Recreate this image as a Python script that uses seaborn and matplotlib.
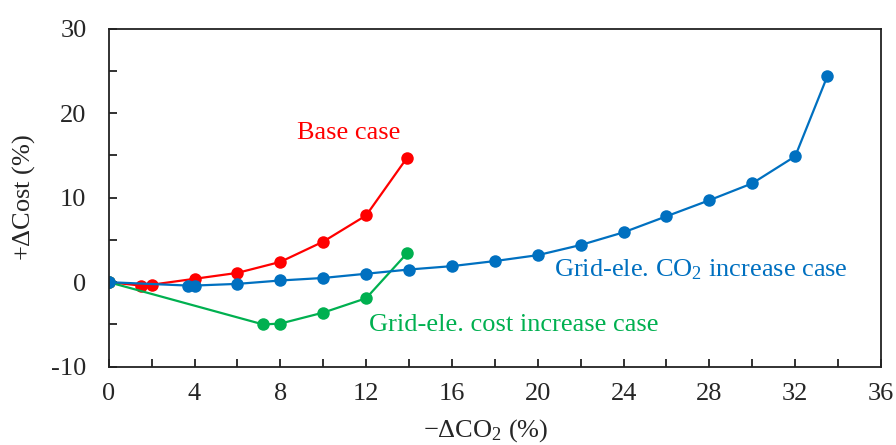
import matplotlib
matplotlib.use("Agg")
import matplotlib.pyplot as plt
import seaborn as sns
import pandas as pd

# ---- data ----
base_x = [0, 1.5, 2.0, 4.0, 6.0, 8.0, 10.0, 12.0, 13.9]
base_y = [0, -0.4, -0.3, 0.4, 1.1, 2.4, 4.8, 7.9, 14.7]

cost_x = [0, 7.2, 8.0, 10.0, 12.0, 13.9]
cost_y = [0, -5.0, -4.9, -3.6, -1.9, 3.4]

co2_x = [0, 3.7, 4.0, 6.0, 8.0, 10.0, 12.0, 14.0, 16.0, 18.0, 20.0,
         22.0, 24.0, 26.0, 28.0, 30.0, 32.0, 33.5]
co2_y = [0, -0.4, -0.4, -0.2, 0.2, 0.5, 1.0, 1.5, 1.9, 2.5, 3.2,
         4.4, 5.9, 7.8, 9.7, 11.7, 14.9, 24.4]

x_ticks = [0, 4, 8, 12, 16, 20, 24, 28, 32, 36]
y_ticks = [-10, 0, 10, 20, 30]

RED = "#FF0000"
GREEN = "#00B050"
BLUE = "#0070C0"

sns.set_theme(style="ticks")
plt.rcParams["font.family"] = ["Liberation Serif", "DejaVu Serif"]
plt.rcParams["mathtext.fontset"] = "custom"
plt.rcParams["mathtext.rm"] = "Liberation Serif"
plt.rcParams["mathtext.it"] = "Liberation Serif:italic"

fig = plt.figure(figsize=(8.96, 4.45), dpi=100)
ax = fig.add_axes([0.1213, 0.176, 0.862, 0.7595])

series = [(base_x, base_y, RED), (cost_x, cost_y, GREEN), (co2_x, co2_y, BLUE)]
for xs, ys, c in series:
    df = pd.DataFrame({"x": xs, "y": ys})
    sns.lineplot(data=df, x="x", y="y", sort=False, estimator=None, ax=ax,
                 color=c, linewidth=1.6, marker="o", markersize=9,
                 markeredgewidth=0, markeredgecolor=c)

ax.set_xlim(0, 36)
ax.set_ylim(-10, 30)
ax.set_xticks(x_ticks)
ax.set_xticks(range(2, 36, 4), minor=True)
ax.set_yticks(y_ticks)
ax.set_yticks([-5, 5, 15, 25], minor=True)
ax.set_xticklabels([str(v) for v in x_ticks])
ax.set_yticklabels([str(v) for v in y_ticks])

ax.tick_params(axis="both", which="both", direction="in", length=5.5, width=1.3,
               color="#222222")
ax.tick_params(axis="x", which="major", labelsize=19, pad=12)
ax.tick_params(axis="y", which="major", labelsize=19, pad=16)
ax.tick_params(top=False, right=False, which="both")
for s in ax.spines.values():
    s.set_visible(True)
    s.set_color("#222222")
    s.set_linewidth(1.3)

ax.set_xlabel("$-\\Delta$CO$_2$ (%)", fontsize=19)
ax.xaxis.set_label_coords(0.488, -0.148)
ax.set_ylabel("+$\\Delta$Cost (%)", fontsize=19)
ax.yaxis.set_label_coords(-0.093, 0.5)

ax.text(11.2, 17.7, "Base case", color=RED, fontsize=19, ha="center", va="center")
ax.text(27.6, 1.5, "Grid-ele. CO$_2$ increase case", color=BLUE, fontsize=19,
        ha="center", va="center")
ax.text(18.9, -5.1, "Grid-ele. cost increase case", color=GREEN, fontsize=19,
        ha="center", va="center")

fig.savefig("out.png", dpi=100)
